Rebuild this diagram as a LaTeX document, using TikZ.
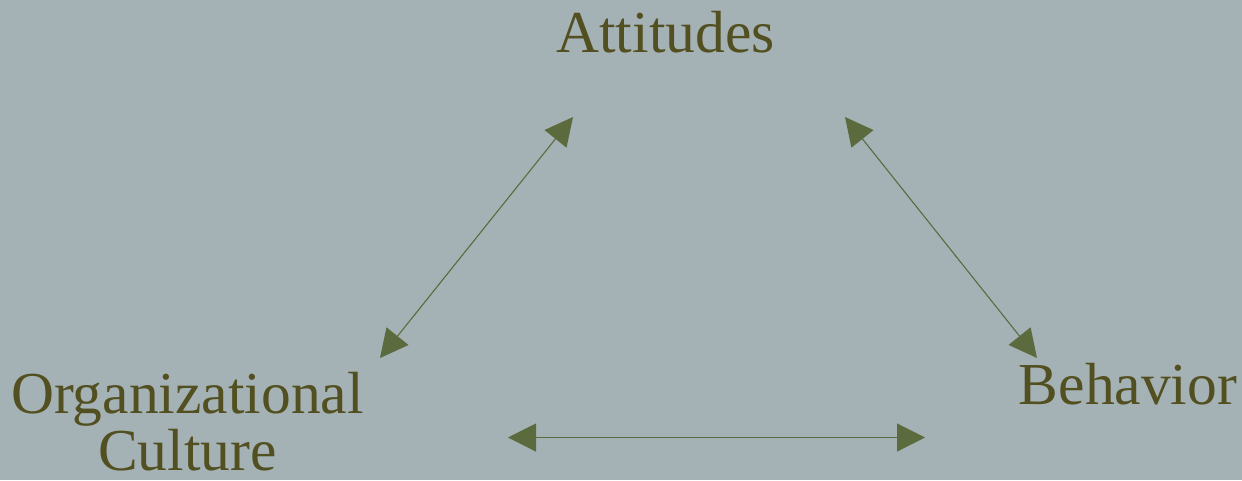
\documentclass[tikz,border=0pt]{standalone}
\usepackage{fontspec}
\setmainfont{Liberation Serif}
\usetikzlibrary{arrows.meta}
\definecolor{bgc}{HTML}{A5B2B5}
\definecolor{txt}{HTML}{524F20}
\definecolor{arr}{HTML}{5B6B3D}
\tikzset{
  label text/.style={text=txt, font=\fontsize{59.5}{57}\selectfont, inner sep=0pt, align=center, anchor=base},
  link/.style={draw=arr, line width=1.1pt, {Triangle[length=28pt,width=28pt]}-{Triangle[length=28pt,width=28pt]}}
}
\begin{document}
\begin{tikzpicture}[x=1pt,y=-1pt]
\fill[bgc] (0,0) rectangle (1242,480);
\useasboundingbox (0,0) rectangle (1242,480);
\node[label text] (att) at (665.5,52) {Attitudes};
\node[label text] (org) at (187.5,470) {Organizational\\Culture};
\node[label text] (beh) at (1128,404) {Behavior};
\coordinate (a1) at (573,117);
\coordinate (o1) at (380,358);
\coordinate (a2) at (845,117);
\coordinate (b1) at (1037,358);
\coordinate (o2) at (508,437.5);
\coordinate (b2) at (925,437.5);
\draw[link] (o1) -- (a1);
\draw[link] (a2) -- (b1);
\draw[link] (o2) -- (b2);
\end{tikzpicture}
\end{document}
